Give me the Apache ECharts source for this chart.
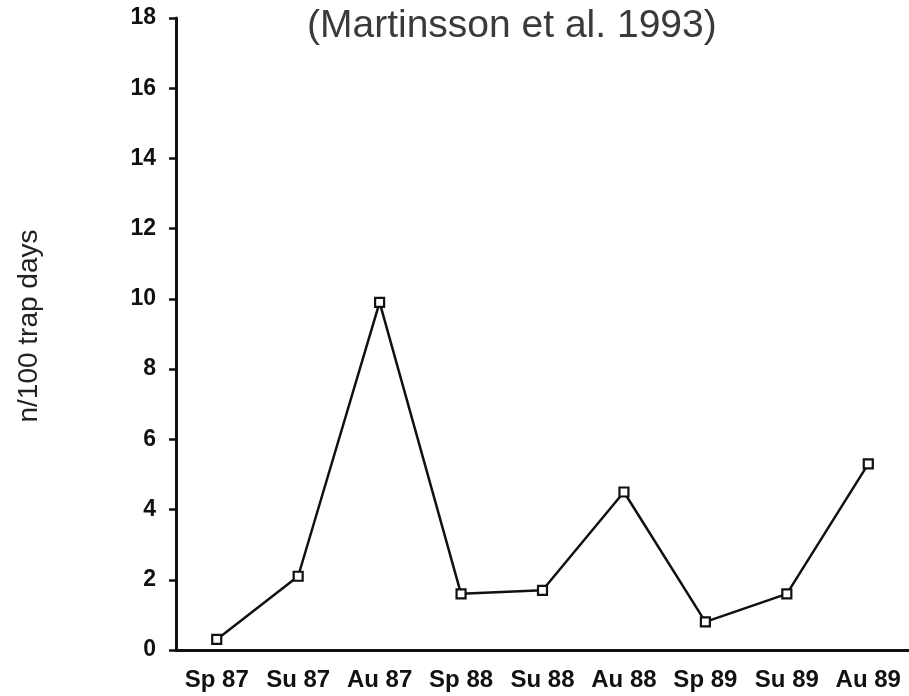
<!DOCTYPE html>
<html>
<head>
<meta charset="utf-8">
<script src="https://cdn.jsdelivr.net/npm/echarts@6/dist/echarts.min.js"></script>
<style>
  html, body { margin: 0; padding: 0; background: #fff; }
  #chart { width: 909px; height: 696px; }
</style>
</head>
<body>
<div id="chart"></div>
<script>
// Seasonal trap catches (n per 100 trap days), spring/summer/autumn 1987-1989
const seasons = ['Sp 87', 'Su 87', 'Au 87', 'Sp 88', 'Su 88', 'Au 88', 'Sp 89', 'Su 89', 'Au 89'];
const catchRate = [0.3, 2.1, 9.9, 1.6, 1.7, 4.5, 0.8, 1.6, 5.3];
const yTicks = [0, 2, 4, 6, 8, 10, 12, 14, 16, 18];

const titleText = '(Martinsson et al. 1993)';
const yAxisTitle = 'n/100 trap days';

const chart = echarts.init(document.getElementById('chart'), null, { renderer: 'canvas' });

const font = 'Liberation Sans, Arial, Helvetica, sans-serif';

chart.setOption({
  backgroundColor: '#ffffff',
  animation: false,
  title: {
    text: titleText,
    left: 302,
    top: 2,
    textStyle: { fontFamily: font, fontSize: 39, fontWeight: 'normal', color: '#3a3a3a' }
  },
  graphic: [{
    type: 'text',
    x: 29,
    y: 326,
    rotation: Math.PI / 2,
    style: {
      text: yAxisTitle,
      fontFamily: font,
      fontSize: 28,
      fill: '#222',
      align: 'center',
      verticalAlign: 'middle'
    }
  }],
  grid: { left: 176, top: 18, width: 738, height: 632, containLabel: false },
  xAxis: {
    type: 'category',
    data: seasons,
    boundaryGap: true,
    axisLine: { lineStyle: { color: '#111', width: 3 } },
    axisTick: { alignWithLabel: true, length: 7, lineStyle: { color: '#111', width: 2.5 } },
    axisLabel: {
      interval: 0,
      margin: 18,
      fontFamily: font,
      fontSize: 24,
      fontWeight: 'bold',
      color: '#111'
    },
    splitLine: { show: false }
  },
  yAxis: {
    type: 'value',
    min: yTicks[0],
    max: yTicks[yTicks.length - 1],
    interval: 2,
    axisLine: { show: true, lineStyle: { color: '#111', width: 3 } },
    axisTick: { show: true, length: 7, lineStyle: { color: '#111', width: 2.5 } },
    axisLabel: {
      margin: 20,
      fontFamily: font,
      fontSize: 23,
      fontWeight: 'bold',
      color: '#111'
    },
    splitLine: { show: false }
  },
  series: [{
    type: 'line',
    data: catchRate,
    symbol: 'rect',
    symbolSize: 9,
    itemStyle: { color: '#fff', borderColor: '#111', borderWidth: 2.2 },
    lineStyle: { color: '#111', width: 2.5 },
    z: 3
  }]
});
</script>
</body>
</html>
